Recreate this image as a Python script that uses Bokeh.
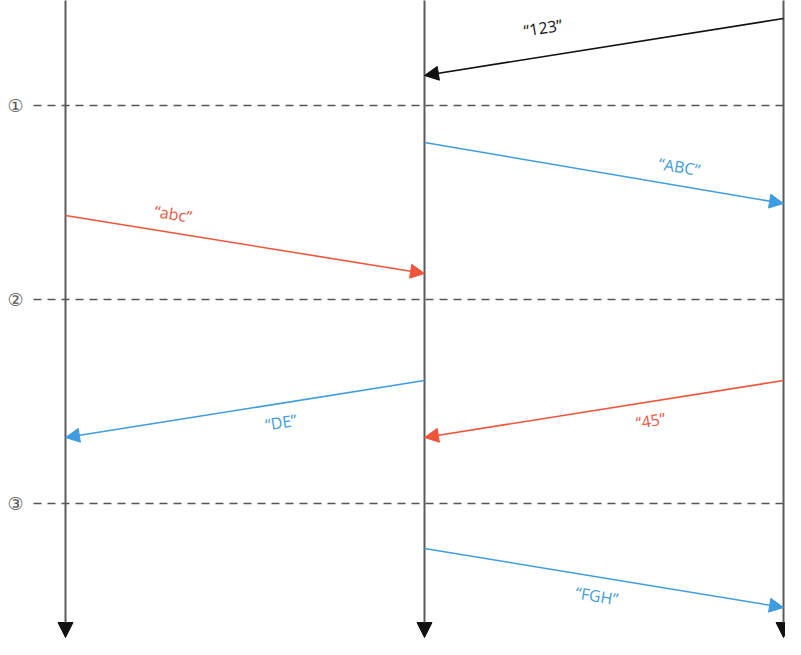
import math
from bokeh.plotting import figure
from bokeh.models import Range1d, Arrow, NormalHead, ColumnDataSource
from bokeh.core.properties import value
from bokeh.embed import file_html
from bokeh.resources import INLINE

# ---- data ----
lifelines = ["A", "B", "C"]          # lifeline index 0, 1, 2
lifeline_end = 637                    # time where lifelines end (arrow tip)

step_labels = ["①", "②", "③"]
step_times = [105, 299, 503]

msg_text = ["\u201c123\u201d", "\u201cABC\u201d", "\u201cabc\u201d", "\u201cDE\u201d", "\u201c45\u201d", "\u201cFGH\u201d"]
msg_from = [2, 1, 0, 1, 2, 1]
msg_to = [1, 2, 1, 0, 1, 2]
msg_t0 = [18, 142, 215, 380, 380, 548]
msg_t1 = [75, 203, 273, 437, 437, 607]
msg_kind = ["black", "blue", "red", "blue", "red", "blue"]
label_frac = [0.67, 0.71, 0.30, 0.40, 0.37, 0.48]
label_side = [1, 1, 1, -1, -1, -1]   # 1 above the arrow, -1 below

# ---- styling ----
colors = {"black": "#111111", "blue": "#3d9de0", "red": "#f0553a"}
PX_PER_LANE = 359.0
X0_PX = 65.0
W, H = 785, 639

p = figure(width=W, height=H, output_backend="svg", toolbar_location=None,
           x_range=Range1d((0 - X0_PX) / PX_PER_LANE, (W - X0_PX) / PX_PER_LANE),
           y_range=Range1d(H, 0), min_border=0)
p.axis.visible = False
p.grid.visible = False
p.outline_line_color = None
p.background_fill_color = "white"
p.border_fill_color = "white"

# dashed step lines
x_dash0 = (33 - X0_PX) / PX_PER_LANE
x_dash1 = (W + 10 - X0_PX) / PX_PER_LANE
p.segment(x0=[x_dash0] * len(step_times), y0=step_times,
          x1=[x_dash1] * len(step_times), y1=step_times,
          line_color="#555555", line_width=1.6, line_dash="8 6")
p.text(x=[(15 - X0_PX) / PX_PER_LANE] * len(step_times), y=step_times, text=step_labels,
       text_align="center", text_baseline="middle", text_color="#555555",
       text_font_size="18px", text_font=value("DejaVu Sans"))

# lifelines with arrow tips at the bottom
for i, _ in enumerate(lifelines):
    p.add_layout(Arrow(x_start=i, y_start=-2, x_end=i, y_end=lifeline_end,
                       line_color="#5a5a5a", line_width=2,
                       end=NormalHead(size=15, fill_color="#111111", line_color="#111111", line_width=1)))

# messages
lx, ly, lt, lc, la, lyo = [], [], [], [], [], []
for k in range(len(msg_text)):
    c = colors[msg_kind[k]]
    p.add_layout(Arrow(x_start=msg_from[k], y_start=msg_t0[k], x_end=msg_to[k], y_end=msg_t1[k],
                       line_color=c, line_width=1.6,
                       end=NormalHead(size=14, fill_color=c, line_color=c, line_width=1)))
    dxp = (msg_to[k] - msg_from[k]) * PX_PER_LANE
    dyp = msg_t1[k] - msg_t0[k]
    if dxp < 0:
        dxp, dyp = -dxp, -dyp
    ang = -math.atan2(dyp, dxp)
    f = label_frac[k]
    lx.append(msg_from[k] + f * (msg_to[k] - msg_from[k]))
    ly.append(msg_t0[k] + f * (msg_t1[k] - msg_t0[k]))
    lt.append(msg_text[k])
    lc.append(c)
    la.append(ang)
    gap = 29 if k == 0 else 19
    lyo.append(-gap * label_side[k])

src = ColumnDataSource(dict(x=lx, y=ly, text=lt, color=lc, angle=la, yo=lyo))
p.text(x="x", y="y", text="text", source=src, text_color="color", angle="angle",
       y_offset="yo", text_align="center", text_baseline="middle",
       text_font_size="16px", text_font=value("Open Sans"))

open("out.html", "w").write(file_html(p, INLINE))
